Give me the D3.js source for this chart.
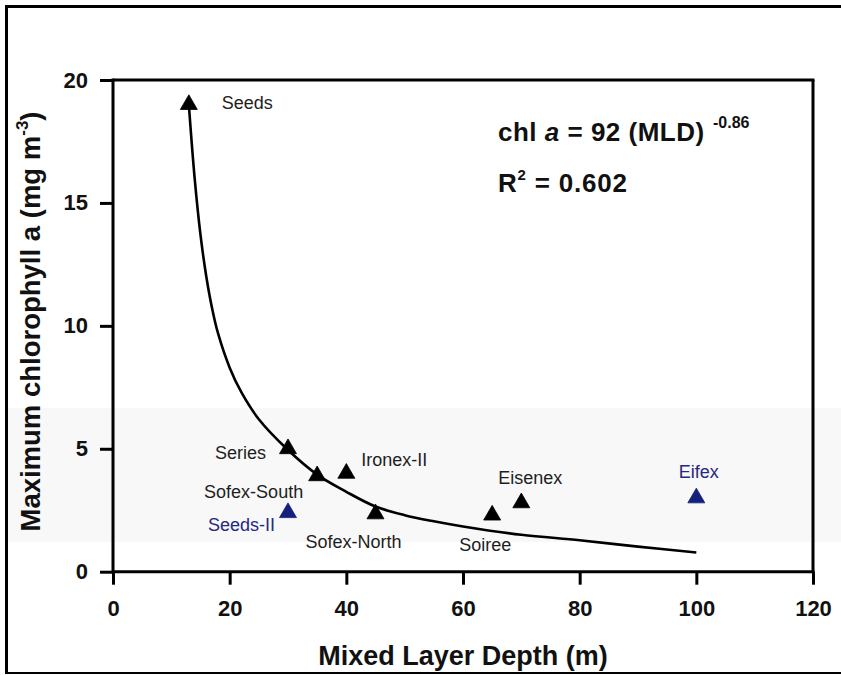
<!DOCTYPE html>
<html>
<head>
<meta charset="utf-8">
<script src="https://cdn.jsdelivr.net/npm/d3@7"></script>
<style>
  html, body { margin: 0; padding: 0; background: #ffffff; }
  svg { display: block; }
  text { font-family: Arial, "Liberation Sans", Helvetica, sans-serif; }
</style>
</head>
<body>
<script>
// Iron-fertilisation experiments: mixed layer depth vs. maximum chlorophyll a
const experiments = ["Seeds", "Series", "Sofex-South", "Ironex-II", "Seeds-II", "Sofex-North", "Soiree", "Eisenex", "Eifex"];
const mixedLayerDepth = [13, 30, 35, 40, 30, 45, 65, 70, 100];
const maxChlorophyll = [19.0, 5.0, 3.9, 4.0, 2.4, 2.35, 2.3, 2.8, 3.0];
const markerGroup = ["core", "core", "core", "core", "alt", "core", "core", "core", "alt"];

// Fitted curve, traced along the MLD range
const curveMld = [13, 14, 15, 16, 17, 18, 20, 22, 25, 30, 35, 40, 45, 50, 55, 60, 70, 80, 90, 100];
const curveChl = [19.0, 16.0, 13.7, 12.0, 10.7, 9.7, 8.3, 7.3, 6.2, 4.95, 3.95, 3.25, 2.65, 2.3, 2.05, 1.84, 1.5, 1.28, 1.02, 0.78];

const xTicks = [0, 20, 40, 60, 80, 100, 120];
const yTicks = [0, 5, 10, 15, 20];

// Label placement relative to each marker
const labelPlacement = {
  "Seeds":       { dx: 33,  dy: 4,    anchor: "start" },
  "Series":      { dx: -22, dy: 10.5, anchor: "end" },
  "Sofex-South": { dx: -14, dy: 22.5, anchor: "end" },
  "Ironex-II":   { dx: 15,  dy: -7,   anchor: "start" },
  "Seeds-II":    { dx: -13, dy: 18.5, anchor: "end" },
  "Sofex-North": { dx: -22, dy: 34.5, anchor: "middle" },
  "Soiree":      { dx: -7,  dy: 36,   anchor: "middle" },
  "Eisenex":     { dx: 9,   dy: -18.5, anchor: "middle" },
  "Eifex":       { dx: 2.5, dy: -19.5, anchor: "middle" }
};

const W = 841, H = 675;
const plot = { left: 113, right: 813, top: 80, bottom: 571.7 };
const groupColor = { core: "#000000", alt: "#15207a" };
const labelColor = { core: "#1e1e1e", alt: "#26287e" };

const svg = d3.select("body").append("svg")
  .attr("width", W).attr("height", H)
  .attr("viewBox", `0 0 ${W} ${H}`);

svg.append("rect").attr("width", W).attr("height", H).attr("fill", "#ffffff");

// faint horizontal band behind the lower part of the plot
svg.append("rect")
  .attr("x", 8).attr("y", 408).attr("width", W - 8).attr("height", 134)
  .attr("fill", "#f8f8f8");

// outer frame
svg.append("line").attr("x1", 6.5).attr("x2", 6.5).attr("y1", 5).attr("y2", 674)
  .attr("stroke", "#000").attr("stroke-width", 3);
svg.append("line").attr("x1", 5).attr("x2", W).attr("y1", 6.5).attr("y2", 6.5)
  .attr("stroke", "#000").attr("stroke-width", 3);
svg.append("line").attr("x1", 5).attr("x2", W).attr("y1", 673).attr("y2", 673)
  .attr("stroke", "#000").attr("stroke-width", 2);

const x = d3.scaleLinear().domain([0, 120]).range([plot.left, plot.right]);
const y = d3.scaleLinear().domain([0, 20]).range([plot.bottom, plot.top]);

// plot box top and right edges
svg.append("line").attr("x1", plot.left).attr("x2", plot.right + 1.5)
  .attr("y1", plot.top).attr("y2", plot.top)
  .attr("stroke", "#000").attr("stroke-width", 3);
svg.append("line").attr("x1", plot.right).attr("x2", plot.right)
  .attr("y1", plot.top).attr("y2", plot.bottom)
  .attr("stroke", "#000").attr("stroke-width", 3);

// axes
const xAxis = d3.axisBottom(x).tickValues(xTicks).tickSize(13).tickSizeOuter(0).tickPadding(16)
  .tickFormat(d3.format("d"));
const yAxis = d3.axisLeft(y).tickValues(yTicks).tickSize(13).tickSizeOuter(0).tickPadding(12)
  .tickFormat(d3.format("d"));

const gx = svg.append("g").attr("transform", `translate(0,${plot.bottom})`).call(xAxis);
const gy = svg.append("g").attr("transform", `translate(${plot.left},0)`).call(yAxis);

[gx, gy].forEach(g => {
  g.select(".domain").attr("stroke", "#000").attr("stroke-width", 3);
  g.selectAll(".tick line").attr("stroke", "#000").attr("stroke-width", 3);
  g.selectAll(".tick text")
    .attr("fill", "#111")
    .style("font-family", "Arial, 'Liberation Sans', sans-serif")
    .style("font-size", "22px")
    .style("font-weight", "bold");
});
gx.select(".domain").attr("d", `M${plot.left},0H${plot.right + 1.5}`);
gy.select(".domain").attr("d", `M0,${plot.bottom + 1.5}V${plot.top - 1.5}`);

// fitted curve
const curvePts = curveMld.map((m, i) => [m, curveChl[i]]);
svg.append("path")
  .datum(curvePts)
  .attr("fill", "none")
  .attr("stroke", "#000")
  .attr("stroke-width", 2.6)
  .attr("d", d3.line().x(d => x(d[0])).y(d => y(d[1])).curve(d3.curveCatmullRom.alpha(0.5)));

// markers
const points = experiments.map((name, i) => ({
  name, mld: mixedLayerDepth[i], chl: maxChlorophyll[i], group: markerGroup[i]
}));

svg.append("g").selectAll("path")
  .data(points)
  .join("path")
  .attr("transform", d => `translate(${x(d.mld)},${y(d.chl)})`)
  .attr("d", d3.symbol().type(d3.symbolTriangle).size(125))
  .attr("fill", d => groupColor[d.group])
  .attr("stroke", d => groupColor[d.group])
  .attr("stroke-width", 0.8);

// marker labels
svg.append("g").selectAll("text")
  .data(points)
  .join("text")
  .attr("x", d => x(d.mld) + labelPlacement[d.name].dx)
  .attr("y", d => y(d.chl) + labelPlacement[d.name].dy)
  .attr("text-anchor", d => labelPlacement[d.name].anchor)
  .attr("fill", d => labelColor[d.group])
  .style("font-size", "18px")
  .text(d => d.name);

// regression equation
const eq = svg.append("text")
  .attr("x", 498).attr("y", 141)
  .attr("fill", "#111")
  .style("font-size", "26px").style("font-weight", "bold")
  .style("letter-spacing", "0.5px");
eq.append("tspan").text("chl ");
eq.append("tspan").style("font-style", "italic").text("a");
eq.append("tspan").text(" = 92 (MLD)");
svg.append("text")
  .attr("x", 713).attr("y", 128)
  .attr("fill", "#111")
  .style("font-size", "16px").style("font-weight", "bold")
  .text("-0.86");

const r2 = svg.append("text")
  .attr("x", 498).attr("y", 192)
  .attr("fill", "#111")
  .style("font-size", "26px").style("font-weight", "bold")
  .style("letter-spacing", "0.8px");
r2.append("tspan").text("R");
r2.append("tspan").attr("dy", -12).style("font-size", "15px").text("2");
r2.append("tspan").attr("dy", 12).text(" = 0.602");

// axis titles
svg.append("text")
  .attr("x", (plot.left + plot.right) / 2).attr("y", 665)
  .attr("text-anchor", "middle")
  .attr("fill", "#111")
  .style("font-size", "27px").style("font-weight", "bold")
  .text("Mixed Layer Depth (m)");

const yt = svg.append("text")
  .attr("transform", `translate(40,${(113 + 530) / 2}) rotate(-90)`)
  .attr("text-anchor", "middle")
  .attr("fill", "#111")
  .style("font-size", "27.5px").style("font-weight", "bold");
yt.append("tspan").text("Maximum chlorophyll a (mg m");
yt.append("tspan").attr("dy", -12).style("font-size", "17px").text("-3");
yt.append("tspan").attr("dy", 12).text(")");
</script>
</body>
</html>
